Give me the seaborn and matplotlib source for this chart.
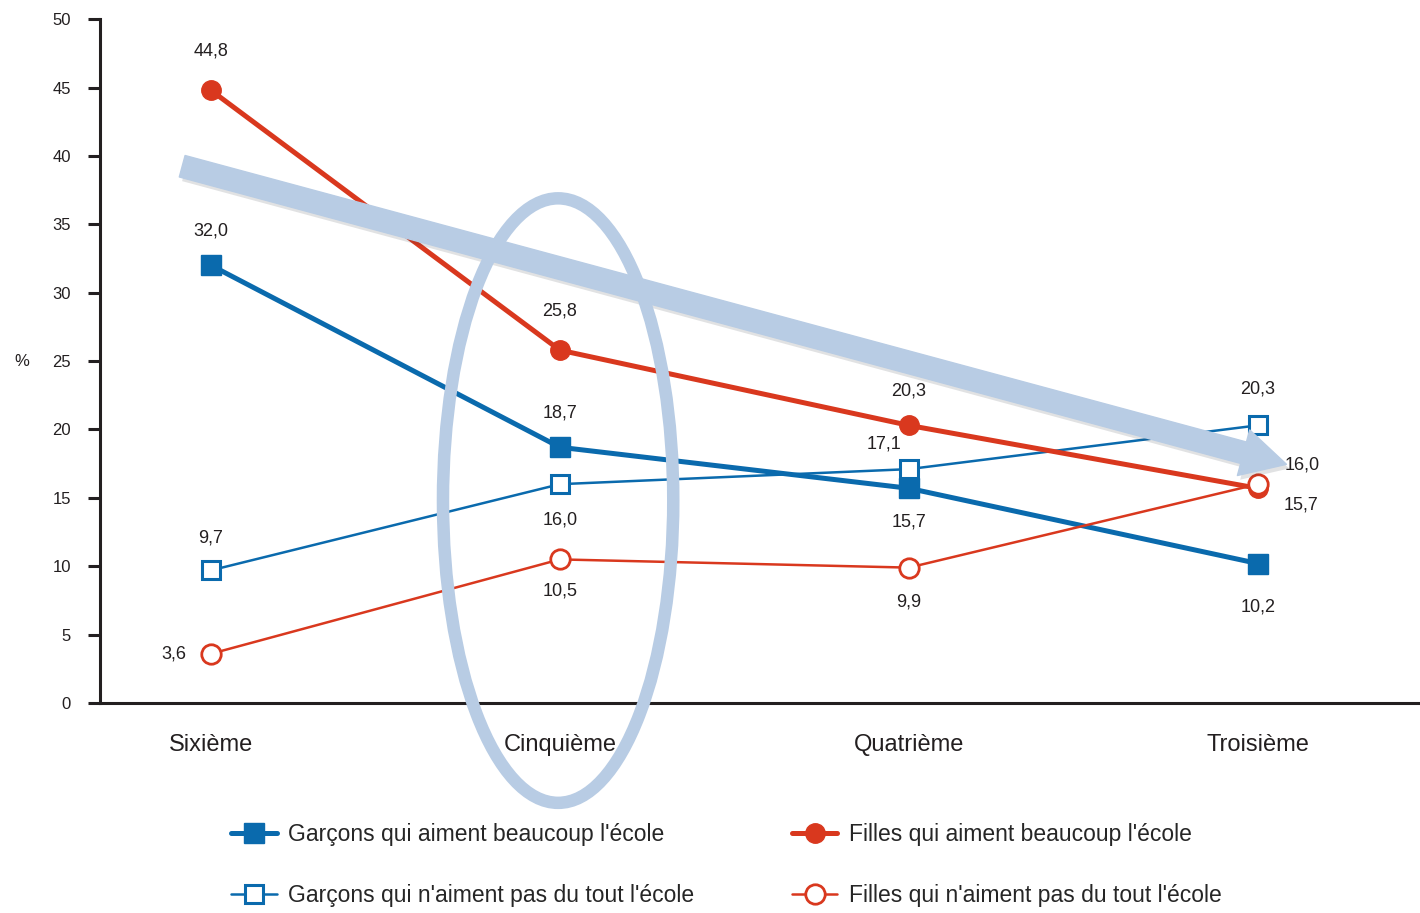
import seaborn as sns
import matplotlib.pyplot as plt
import pandas as pd
from matplotlib import font_manager
from matplotlib.patches import Ellipse, FancyArrowPatch
import matplotlib.patheffects as pe

# ---- dati ----
classes = ['Sixième', 'Cinquième', 'Quatrième', 'Troisième']
garcons_beaucoup = [32.0, 18.7, 15.7, 10.2]
filles_beaucoup = [44.8, 25.8, 20.3, 15.7]
garcons_pas = [9.7, 16.0, 17.1, 20.3]
filles_pas = [3.6, 10.5, 9.9, 16.0]
y_ticks = [0, 5, 10, 15, 20, 25, 30, 35, 40, 45, 50]

names = {f.name for f in font_manager.fontManager.ttflist}
font = 'Liberation Sans Narrow' if 'Liberation Sans Narrow' in names else 'Liberation Sans'

sns.set_style('white')
plt.rcParams['font.family'] = [font, 'DejaVu Sans']

BLUE = '#0a6aad'
RED = '#d9381e'
LIGHT = '#b8cce4'
DARK = '#231f20'

fig = plt.figure(figsize=(14.2, 9.13), dpi=100)
ax = fig.add_axes([0.0704, 0.23, 0.9296, 0.749])

x = list(range(len(classes)))

# stile di ogni serie + spostamento delle etichette (in punti)
series = [
    ('Garçons qui aiment beaucoup l\'école', garcons_beaucoup,
     dict(color=BLUE, lw=3.6, marker='s', ms=15, mfc=BLUE, mec=BLUE, zorder=4),
     [(0, 25), (0, 25), (0, -24), (0, -31)]),
    ('Garçons qui n\'aiment pas du tout l\'école', garcons_pas,
     dict(color=BLUE, lw=1.8, marker='s', ms=13, mfc='white', mec=BLUE, mew=2.2, zorder=3),
     [(0, 23), (0, -26), (-18, 18), (0, 26)]),
    ('Filles qui aiment beaucoup l\'école', filles_beaucoup,
     dict(color=RED, lw=3.6, marker='o', ms=14, mfc=RED, mec=RED, zorder=4),
     [(0, 28), (0, 28), (0, 25), (31, -12)]),
    ('Filles qui n\'aiment pas du tout l\'école', filles_pas,
     dict(color=RED, lw=1.8, marker='o', ms=14, mfc='white', mec=RED, mew=2.0, zorder=5),
     [(-27, 0), (0, -23), (0, -25), (32, 14)]),
]

handles = []
for label, vals, st, offs in series:
    df = pd.DataFrame({'x': x, 'y': vals})
    sns.lineplot(data=df, x='x', y='y', ax=ax, color=st['color'], linewidth=st['lw'],
                 marker=st['marker'], markersize=st['ms'], markerfacecolor=st['mfc'],
                 markeredgecolor=st['mec'], markeredgewidth=st.get('mew', 1),
                 zorder=st['zorder'], label=label, legend=False)
    h = ax.lines[-1]
    handles.append(h)
    for xi, v, (dx, dy) in zip(x, vals, offs):
        ax.annotate(f'{v:.1f}'.replace('.', ','), (xi, v), xytext=(dx, dy),
                    textcoords='offset points', ha='center', va='center',
                    fontsize=13, color=DARK, zorder=6)

# grande freccia e ellisse
arrow = FancyArrowPatch((-0.09, 39.3), (3.09, 17.4),
                        arrowstyle='simple,head_length=1.6,head_width=1.7,tail_width=0.8',
                        mutation_scale=20, color=LIGHT, zorder=7, clip_on=False,
                        path_effects=[pe.SimplePatchShadow(offset=(2, -3), alpha=0.15), pe.Normal()])
ax.add_patch(arrow)
ell = Ellipse((0.995, 14.8), 0.66, 44.2, fill=False, edgecolor=LIGHT, lw=9,
              zorder=7, clip_on=False)
ax.add_patch(ell)

ax.set_xlim(-0.318, 3.465)
ax.set_ylim(0, 50)
ax.set_xticks(x)
ax.set_xticklabels(classes, fontsize=17, color=DARK)
ax.set_yticks(y_ticks)
ax.set_yticklabels([str(t) for t in y_ticks], fontsize=12, color=DARK)
ax.tick_params(axis='x', length=0, pad=22)
ax.tick_params(axis='y', length=9, width=2.2, color=DARK, direction='out', pad=12, left=True)
ax.set_xlabel('')
ax.set_ylabel('%', rotation=0, fontsize=12, color=DARK, labelpad=22, va='center')
for s in ['top', 'right']:
    ax.spines[s].set_visible(False)
for s in ['left', 'bottom']:
    ax.spines[s].set_linewidth(2.2)
    ax.spines[s].set_color(DARK)

fig.legend(handles, [s[0] for s in series], ncol=2, loc='lower left',
           bbox_to_anchor=(0.148, -0.016), frameon=False, fontsize=16.5,
           handlelength=2.0, columnspacing=4.25, labelspacing=1.65, handletextpad=0.5)

fig.savefig('out.png', dpi=100)
